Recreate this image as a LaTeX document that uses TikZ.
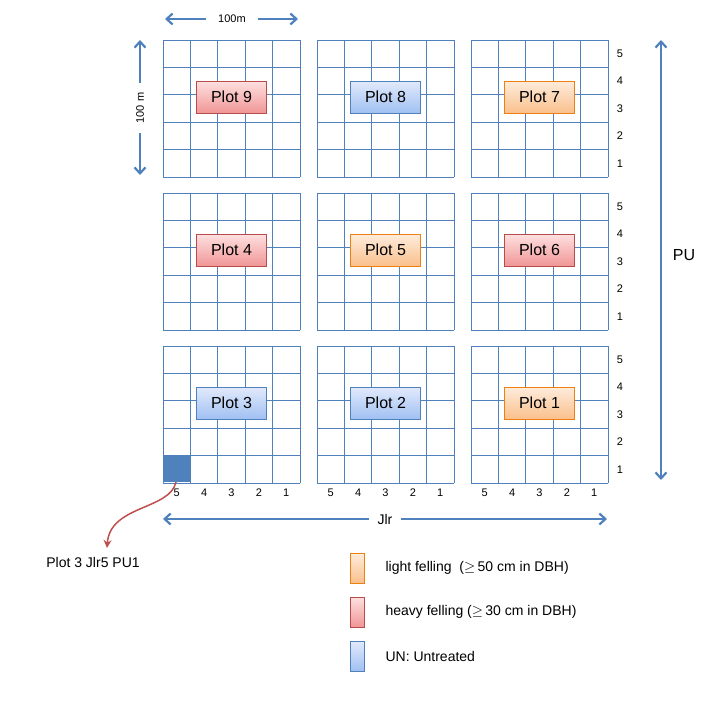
\documentclass[tikz,border=0pt]{standalone}
\usepackage{fontspec}
\setmainfont{Liberation Sans}
\usetikzlibrary{arrows.meta}
\definecolor{gridblue}{RGB}{79,129,189}
\definecolor{arrowred}{RGB}{192,80,77}
\definecolor{ortop}{RGB}{254,236,220}
\definecolor{orbot}{RGB}{250,192,140}
\definecolor{rdtop}{RGB}{255,224,224}
\definecolor{rdbot}{RGB}{240,150,150}
\definecolor{bltop}{RGB}{226,234,252}
\definecolor{blbot}{RGB}{160,192,242}
\tikzset{   grid/.style = {draw=gridblue, line width=0.8pt},
            light/.style = {draw=orange!70!brown, top color=ortop, bottom color=orbot},
            heavy/.style = {draw=red!60!black!70, top color=rdtop, bottom color=rdbot},
            untreated/.style = {draw=gridblue, top color=bltop, bottom color=blbot},
            plot/.style = {rectangle, minimum width=70pt, minimum height=32pt, font=\fontsize{16}{16}\selectfont},
            key/.style = {rectangle, minimum width=14pt, minimum height=30pt},
            dimarrow/.style = {draw=gridblue, line width=2.2pt, -{Straight Barb[length=6pt,width=11pt]}},
            small/.style = {font=\fontsize{11}{11}\selectfont}}
\begin{document}
\begin{tikzpicture}[x=1pt,y=-1pt]
    \useasboundingbox(0,0)rectangle(720,720);
    % the nine plots
    \foreach \px/\py/\n/\t in {163/40/9/heavy,317/40/8/untreated,471/40/7/light,
                              163/193/4/heavy,317/193/5/light,471/193/6/heavy,
                              163/346/3/untreated,317/346/2/untreated,471/346/1/light}{
        \foreach \k in {0,...,5}{
            \draw[grid](\px+\k*27.4,\py)--(\px+\k*27.4,\py+137);
            \draw[grid](\px,\py+\k*27.4)--(\px+137,\py+\k*27.4);
        }
        \node[plot, \t](p\n)at(\px+68.5,\py+57){Plot \n};
    }
    \fill[gridblue](163,455)rectangle(190.4,482);
    \coordinate(cell)at(176,482);
    % row and column numbers
    \foreach \py in {40,193,346}
        \foreach \k in {1,...,5}
            \node[small](r\py\k)at(620,\py+137-\k*27.4+13.7){\k};
    \foreach \px in {163,317,471}
        \foreach \k in {1,...,5}
            \node[small](c\px\k)at(\px+137-\k*27.4+13.7,493){\k};
    % dimensions
    \coordinate(ta)at(165,19); \coordinate(tb)at(298,19);
    \node[small, inner xsep=12pt](w)at(232,19){100m};
    \draw[dimarrow](w.west)--(ta);
    \draw[dimarrow](w.east)--(tb);
    \coordinate(la)at(140,40); \coordinate(lb)at(140,175);
    \node[small, inner xsep=10pt, rotate=90](h)at(140,108){100 m};
    \draw[dimarrow](h.east)--(la);
    \draw[dimarrow](h.west)--(lb);
    \coordinate(pa)at(661,40); \coordinate(pb)at(661,480);
    \draw[dimarrow, {Straight Barb[length=6pt,width=11pt]}-{Straight Barb[length=6pt,width=11pt]}](pa)--(pb);
    \node[font=\fontsize{16}{16}\selectfont](pu)at(684,255){PU};
    \coordinate(ja)at(163,519); \coordinate(jb)at(607,519);
    \node[font=\fontsize{14}{14}\selectfont, inner xsep=8pt](jlr)at(385,519){Jlr};
    \draw[dimarrow](jlr.west)--(ja);
    \draw[dimarrow](jlr.east)--(jb);
    % example cell
    \node[font=\fontsize{14}{14}\selectfont](ex)at(93,562){Plot 3 Jlr5 PU1};
    \coordinate(tip)at(107,548);
    \draw[arrowred, line width=1.5pt, -{Stealth[length=8pt,width=8pt]}](cell)..controls(170,510)and(110,505)..(tip);
    % legend
    \node[key, light](k1)at(357,568){};
    \node[key, heavy](k2)at(357,612){};
    \node[key, untreated](k3)at(357,656){};
    \node[anchor=west, font=\fontsize{14}{14}\selectfont](t1)at(382,568){light felling\ \ ($\geq$\,50 cm in DBH)};
    \node[anchor=west, font=\fontsize{14}{14}\selectfont](t2)at(382,612){heavy felling ($\geq$\,30 cm in DBH)};
    \node[anchor=west, font=\fontsize{14}{14}\selectfont](t3)at(382,656){UN: Untreated};
\end{tikzpicture}
\end{document}
